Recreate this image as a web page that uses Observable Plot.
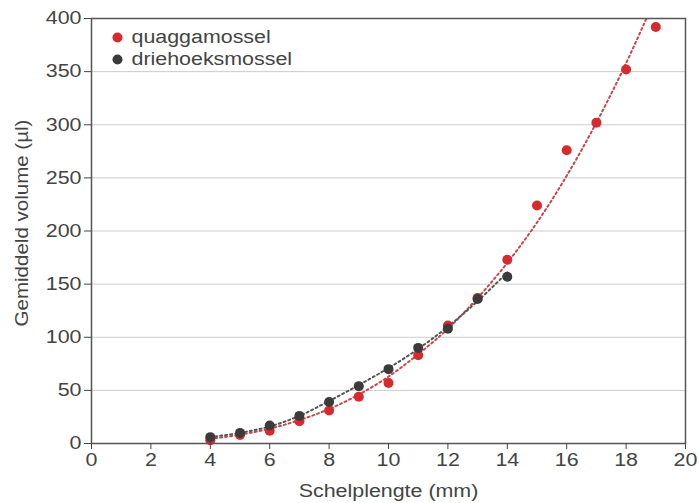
<!DOCTYPE html>
<html><head><meta charset="utf-8">
<script src="https://cdn.jsdelivr.net/npm/d3@7"></script>
<script src="https://cdn.jsdelivr.net/npm/@observablehq/plot@0.6"></script>
<style>body{margin:0;background:#fff;} svg{display:block;}</style>
</head><body><div id="chart"></div>
<script>
const seriesNames = ["quaggamossel", "driehoeksmossel"];
const seriesColors = ["#d62a2e", "#3b3b3b"];
const trendColors = ["#c8474b", "#555555"];
// measured points
const quaggaLength = [4,5,6,7,8,9,10,11,12,13,14,15,16,17,18,19];
const quaggaVolume = [3,8,12,21,31,44,57,83,111,137,173,224,276,302,352,392];
const driehoekLength = [4,5,6,7,8,9,10,11,12,13,14];
const driehoekVolume = [6,10,17,26,39,54,70,90,108,136,157];
// dotted trend lines at each whole mm (quagga line runs off the top)
const quaggaTrend = [4.3,8.3,14,22,32.5,46,63,84,108,137,170,208,252,302,358,420];
const driehoekTrend = [6,10,16,26,40,55,71,89,110,134,161];
const xTicks = [0,2,4,6,8,10,12,14,16,18,20];
const yTicks = [0,50,100,150,200,250,300,350,400];

const quagga = quaggaLength.map((x,i)=>({x, y:quaggaVolume[i]}));
const driehoek = driehoekLength.map((x,i)=>({x, y:driehoekVolume[i]}));
const quaggaLine = quaggaLength.map((x,i)=>({x, y:quaggaTrend[i]}));
const driehoekLine = driehoekLength.map((x,i)=>({x, y:driehoekTrend[i]}));

const legendMarks = seriesNames.flatMap((n,i)=>[
  Plot.dot([n], {frameAnchor:"top-left", dx:26, dy:19+i*22, r:5, fill: seriesColors[i]}),
  Plot.text([n], {frameAnchor:"top-left", dx:40, dy:19+i*22, text:d=>d, textAnchor:"start", lineAnchor:"middle", fill:"#444", fontSize:18})
]);

const plot = Plot.plot({
  width: 699, height: 503,
  marginLeft: 91, marginRight: 14, marginTop: 18, marginBottom: 60,
  style: {fontFamily: "'Liberation Sans', Arial, sans-serif", fontSize: "18px", color: "#444", background: "#fff"},
  x: {domain: [0,20]},
  y: {domain: [0,400]},
  marks: [
    Plot.gridY(yTicks, {stroke:"#cccccc", strokeOpacity:1, strokeWidth:1}),
    Plot.line(quaggaLine, {x:"x", y:"y", curve:"catmull-rom", stroke: trendColors[0], strokeWidth:2, strokeDasharray:"2,3", clip:true}),
    Plot.line(driehoekLine, {x:"x", y:"y", curve:"catmull-rom", stroke: trendColors[1], strokeWidth:2, strokeDasharray:"2,3", clip:true}),
    Plot.dot(quagga, {x:"x", y:"y", r:5, fill: seriesColors[0]}),
    Plot.dot(driehoek, {x:"x", y:"y", r:5, fill: seriesColors[1]}),
    Plot.frame({stroke:"#555", strokeWidth:1.5}),
    Plot.axisX(xTicks, {tickSize:6, tickPadding:4, stroke:"#444", fill:"#444", label:"Schelplengte (mm)", labelAnchor:"center", labelArrow:false, labelOffset:53, fontSize:18}),
    Plot.axisY(yTicks, {tickSize:7, tickPadding:3, stroke:"#444", fill:"#444", label:"Gemiddeld volume (µl)", labelAnchor:"center", labelArrow:false, labelOffset:76, fontSize:18}),
    ...legendMarks
  ]
});
document.getElementById("chart").appendChild(plot);

// the reference lettering is horizontally stretched: widen each text along its baseline
plot.querySelectorAll("text").forEach(t => {
  const rotated = (t.getAttribute("transform") || "").includes("rotate");
  const s = rotated ? 1.14 : 1.19;
  let tr = t.getAttribute("transform") || "";
  if (!tr) {
    const x = +t.getAttribute("x") || 0, y = +t.getAttribute("y") || 0;
    tr = `translate(${x},${y})`; t.removeAttribute("x"); t.setAttribute("y", "0");
  }
  if (rotated) tr = "translate(0,-8) " + tr;
  t.setAttribute("transform", tr + ` scale(${s},1)`);
});
</script></body></html>
